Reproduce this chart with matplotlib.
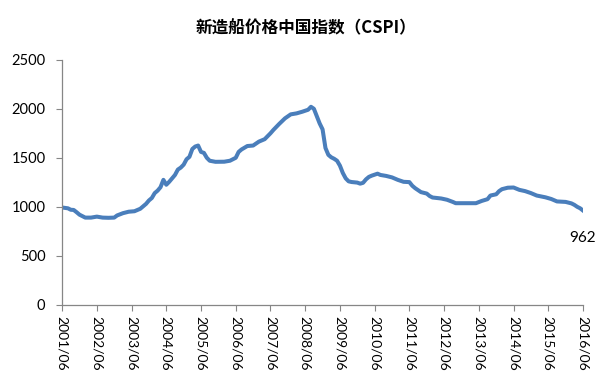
import matplotlib
matplotlib.use("Agg")
import matplotlib.pyplot as plt

plt.rcParams['font.family'] = ['Lato', 'Noto Sans CJK SC', 'DejaVu Sans']

title = "新造船价格中国指数（CSPI）"

dates = ["2001/06", "2001/08", "2001/09", "2001/10", "2001/11", "2001/12", "2002/01", "2002/02",
         "2002/04", "2002/06", "2002/08", "2002/10", "2002/12", "2003/01", "2003/03", "2003/05",
         "2003/07", "2003/09", "2003/11", "2003/12", "2004/01", "2004/02", "2004/03", "2004/04",
         "2004/05", "2004/06", "2004/07", "2004/08", "2004/09", "2004/10", "2004/11", "2004/12",
         "2005/01", "2005/02", "2005/03", "2005/04", "2005/05", "2005/06", "2005/07", "2005/08",
         "2005/09", "2005/11", "2006/02", "2006/04", "2006/05", "2006/06", "2006/07", "2006/08",
         "2006/10", "2006/12", "2007/02", "2007/04", "2007/06", "2007/07", "2007/09", "2007/11",
         "2008/01", "2008/03", "2008/05", "2008/07", "2008/08", "2008/09", "2008/11", "2008/12",
         "2009/01", "2009/02", "2009/03", "2009/04", "2009/05", "2009/06", "2009/07", "2009/08",
         "2009/09", "2009/10", "2009/12", "2010/01", "2010/02", "2010/03", "2010/04", "2010/05",
         "2010/07", "2010/08", "2010/10", "2010/12", "2011/02", "2011/04", "2011/06", "2011/07",
         "2011/08", "2011/10", "2011/12", "2012/01", "2012/02", "2012/05", "2012/07", "2012/09",
         "2012/10", "2013/05", "2013/07", "2013/09", "2013/10", "2013/12", "2014/01", "2014/02",
         "2014/04", "2014/06", "2014/08", "2014/10", "2014/12", "2015/02", "2015/05", "2015/07",
         "2015/09", "2015/12", "2016/02", "2016/03", "2016/04", "2016/05", "2016/06"]

cspi = [993, 985, 970, 968, 945, 920, 905, 890,
        890, 900, 890, 888, 890, 912, 935, 950,
        955, 980, 1030, 1065, 1090, 1140, 1165, 1200,
        1275, 1225, 1255, 1290, 1325, 1380, 1400, 1430,
        1485, 1510, 1590, 1615, 1625, 1560, 1550, 1500,
        1470, 1459, 1460, 1470, 1485, 1500, 1560, 1585,
        1620, 1625, 1665, 1690, 1750, 1784, 1845, 1902,
        1943, 1953, 1970, 1990, 2020, 2000, 1850, 1790,
        1600, 1530, 1505, 1490, 1470, 1420, 1345, 1290,
        1260, 1253, 1247, 1236, 1245, 1280, 1305, 1318,
        1338, 1325, 1315, 1300, 1275, 1255, 1252, 1215,
        1190, 1150, 1135, 1110, 1095, 1085, 1072, 1050,
        1037, 1037, 1060, 1078, 1115, 1128, 1160, 1180,
        1195, 1197, 1173, 1160, 1140, 1115, 1097, 1080,
        1055, 1050, 1035, 1020, 1000, 985, 962]

tick_labels = ["2001/06", "2002/06", "2003/06", "2004/06", "2005/06", "2006/06", "2007/06",
               "2008/06", "2009/06", "2010/06", "2011/06", "2012/06", "2013/06", "2014/06",
               "2015/06", "2016/06"]


def month_index(s):
    y, m = s.split("/")
    return (int(y) - 2001) * 12 + int(m) - 6


x = [month_index(d) for d in dates]
tick_pos = [month_index(t) for t in tick_labels]

fig = plt.figure(figsize=(6.15, 3.83), dpi=100)
ax = fig.add_axes([0.101, 0.204, 0.847, 0.640])

ax.plot(x, cspi, color="#4a7ebb", linewidth=2.9, solid_joinstyle="round")

ax.set_xlim(0, 180)
ax.set_ylim(0, 2500)
ax.set_yticks([0, 500, 1000, 1500, 2000, 2500])
ax.set_xticks(tick_pos)
ax.set_xticklabels(tick_labels, rotation=-90, fontsize=10)
ax.tick_params(axis='y', labelsize=10.5, length=4, color="#868686", pad=8)
ax.tick_params(axis='x', length=4, color="#868686", pad=4)

for s in ["top", "right"]:
    ax.spines[s].set_visible(False)
for s in ["left", "bottom"]:
    ax.spines[s].set_color("#868686")
    ax.spines[s].set_linewidth(0.9)

ax.annotate(str(cspi[-1]), xy=(x[-1], cspi[-1]), xytext=(0, -20),
            textcoords="offset points", ha="center", va="center", fontsize=11)

fig.text(0.497, 0.925, title, ha="center", va="center", fontsize=12,
         fontweight="bold", family=["Noto Sans CJK SC", "DejaVu Sans"])

fig.savefig("out.png", dpi=100, facecolor="white")
